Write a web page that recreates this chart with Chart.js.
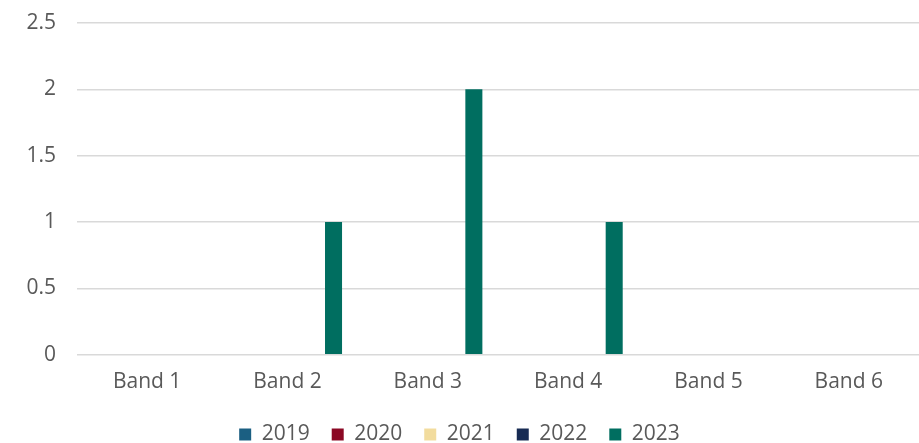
<!DOCTYPE html>
<html>
<head>
<meta charset="utf-8">
<script src="https://cdn.jsdelivr.net/npm/chart.js@4"></script>
<style>
  html, body { margin: 0; padding: 0; background: #fff; }
  #wrap { width: 919px; height: 443px; }
</style>
</head>
<body>
<div id="wrap"><canvas id="bandChart"></canvas></div>
<script>
  // bands and yearly counts
  const bands = ["Band 1", "Band 2", "Band 3", "Band 4", "Band 5", "Band 6"];
  const years = ["2019", "2020", "2021", "2022", "2023"];
  const yearColors = ["#1b5f82", "#8b0824", "#f2dc9e", "#172b53", "#006e60"];

  const counts2019 = [0, 0, 0, 0, 0, 0];
  const counts2020 = [0, 0, 0, 0, 0, 0];
  const counts2021 = [0, 0, 0, 0, 0, 0];
  const counts2022 = [0, 0, 0, 0, 0, 0];
  const counts2023 = [0, 1, 2, 1, 0, 0];
  const allCounts = [counts2019, counts2020, counts2021, counts2022, counts2023];

  // y axis: 0 .. 2.5 in steps of 0.5
  const yMin = 0;
  const yMax = 2.5;
  const yStep = 0.5;

  const labelColor = "#595959";
  const fontFamily = "'Open Sans', sans-serif";

  const datasets = years.map(function (year, i) {
    return {
      label: year,
      data: allCounts[i],
      backgroundColor: yearColors[i],
      borderWidth: 0,
      categoryPercentage: 0.82,
      barPercentage: 0.74,
    };
  });

  const chart = new Chart(document.getElementById("bandChart"), {
    type: "bar",
    data: { labels: bands, datasets: datasets },
    options: {
      responsive: true,
      maintainAspectRatio: false,
      animation: false,
      layout: { padding: { top: 23, right: 0, bottom: -12, left: 0 } },
      plugins: {
        legend: {
          position: "bottom",
          labels: {
            color: labelColor,
            font: { family: fontFamily, size: 21 },
            boxWidth: 12,
            boxHeight: 12,
            padding: 22,
          },
        },
        tooltip: { enabled: false },
      },
      scales: {
        x: {
          grid: { display: false },
          border: { display: false },
          ticks: {
            color: labelColor,
            font: { family: fontFamily, size: 21 },
            padding: 7,
          },
        },
        y: {
          min: yMin,
          max: yMax,
          // fixed axis width; the top label may overhang the plot edge
          afterFit: function (scale) {
            scale.width = 77;
            scale.paddingTop = 0;
            scale.paddingBottom = 0;
          },
          grid: { color: "#d9d9d9", lineWidth: 1.5, drawTicks: false },
          border: { display: false },
          ticks: {
            stepSize: yStep,
            color: labelColor,
            font: { family: fontFamily, size: 21 },
            padding: 21,
            callback: function (v) { return String(v); },
          },
        },
      },
    },
  });
</script>
</body>
</html>
